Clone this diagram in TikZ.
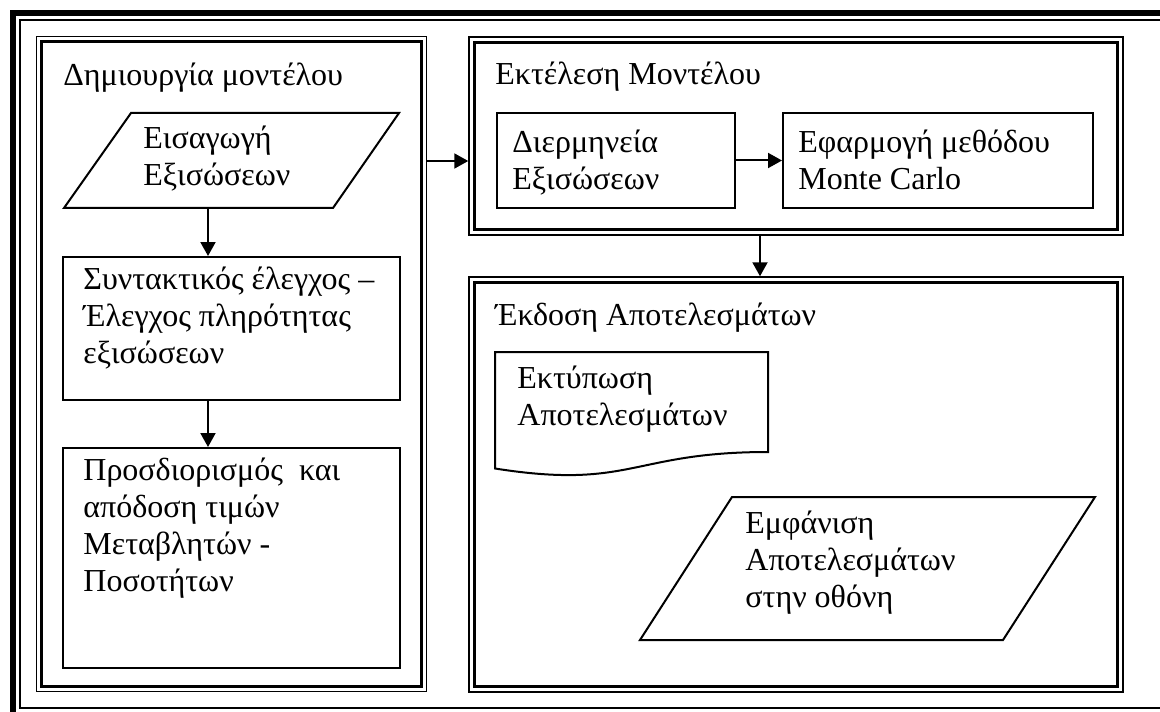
\documentclass[tikz,border=0pt]{standalone}
\usepackage{fontspec}
\setmainfont{Liberation Serif}
\usetikzlibrary{fit,positioning}
\usetikzlibrary{calc,arrows.meta}

\tikzset{
  panelout/.style={draw, line width=0.75pt, inner sep=0pt},
  panelin/.style={line width=1.4pt},
  stepbox/.style={draw, line width=1pt, inner sep=0pt},
  area/.style={inner sep=0pt},
  shapeline/.style={line width=1pt},
  txt/.style={anchor=north west, inner sep=0pt, align=left,
              font=\fontsize{16pt}{18.5pt}\selectfont, execute at begin node=\strut},
  arr/.style={line width=1pt, -{Triangle[length=7pt,width=7.5pt]}}
}

\begin{document}
\begin{tikzpicture}[x=0.5pt,y=-0.5pt]
\useasboundingbox (0,0) rectangle (1160,711);
\clip (0,0) rectangle (1160,711);
% outer frame
\draw[line width=3.3pt] (13,13) rectangle (1185,730);
\draw[line width=0.8pt] (20,20) rectangle (1170,708);
% panels
\node[panelout, fit={(36.5,36.5) (426.5,691.5)}] (build) {};
\node[panelout, fit={(469,37) (1123,235)}] (run) {};
\node[panelout, fit={(469,277) (1123,692)}] (outp) {};
\foreach \p in {build,run,outp}
  \draw[panelin] ([shift={(3pt,-3pt)}]\p.north west) rectangle ([shift={(-3pt,3pt)}]\p.south east);
\node[txt] (buildtitle) at (63,59) {Δημιουργία μοντέλου};
\node[txt] (runtitle) at (495,58) {Εκτέλεση Μοντέλου};
\node[txt] (outtitle) at (495,299) {Έκδοση Αποτελεσμάτων};
% left column
\node[area, fit={(64,113) (399,208)}] (input) {};
\draw[shapeline] (131,113) -- (399,113) -- (333,208) -- (64,208) -- cycle;
\node[stepbox, fit={(63,257) (400,400)}] (syntax) {};
\node[stepbox, fit={(63,448) (400,668)}] (assign) {};
\node[txt] (inputtext) at (143,126) {Εισαγωγή\\Εξισώσεων};
\node[txt] (syntaxtext) at (83,267) {Συντακτικός έλεγχος –\\Έλεγχος πληρότητας\\εξισώσεων};
\node[txt] (assigntext) at (83,458) {Προσδιορισμός~ και\\απόδοση τιμών\\Μεταβλητών -\\Ποσοτήτων};
\coordinate (colx) at (208,0);
\draw[arr] (input.south -| colx) -- (syntax.north -| colx);
\draw[arr] (syntax.south -| colx) -- (assign.north -| colx);
% run
\node[stepbox, fit={(497,113) (735,208)}] (interp) {};
\node[stepbox, fit={(783,113) (1093,208)}] (mc) {};
\node[txt] (interptext) at (512,130) {Διερμηνεία\\Εξισώσεων};
\node[txt] (mctext) at (798,130) {Εφαρμογή μεθόδου\\Monte Carlo};
\draw[arr] (interp.east) -- (mc.west);
\coordinate (flowy) at (0,161);
\draw[arr] (build.east |- flowy) -- (run.west |- flowy);
\coordinate (dropx) at (760,0);
\draw[arr] (run.south -| dropx) -- (outp.north -| dropx);
% results
\draw[shapeline] (495,352) -- (768,352) -- (768,452)
  .. controls (631.5,452) and (631.5,490) .. (495,468.5) -- cycle;
\node[txt] (printtext) at (517,366) {Εκτύπωση\\Αποτελεσμάτων};
\draw[shapeline] (732,497) -- (1095,497) -- (1003,640) -- (640,640) -- cycle;
\node[txt] (displaytext) at (745,511) {Εμφάνιση\\Αποτελεσμάτων\\στην οθόνη};
\end{tikzpicture}
\end{document}
